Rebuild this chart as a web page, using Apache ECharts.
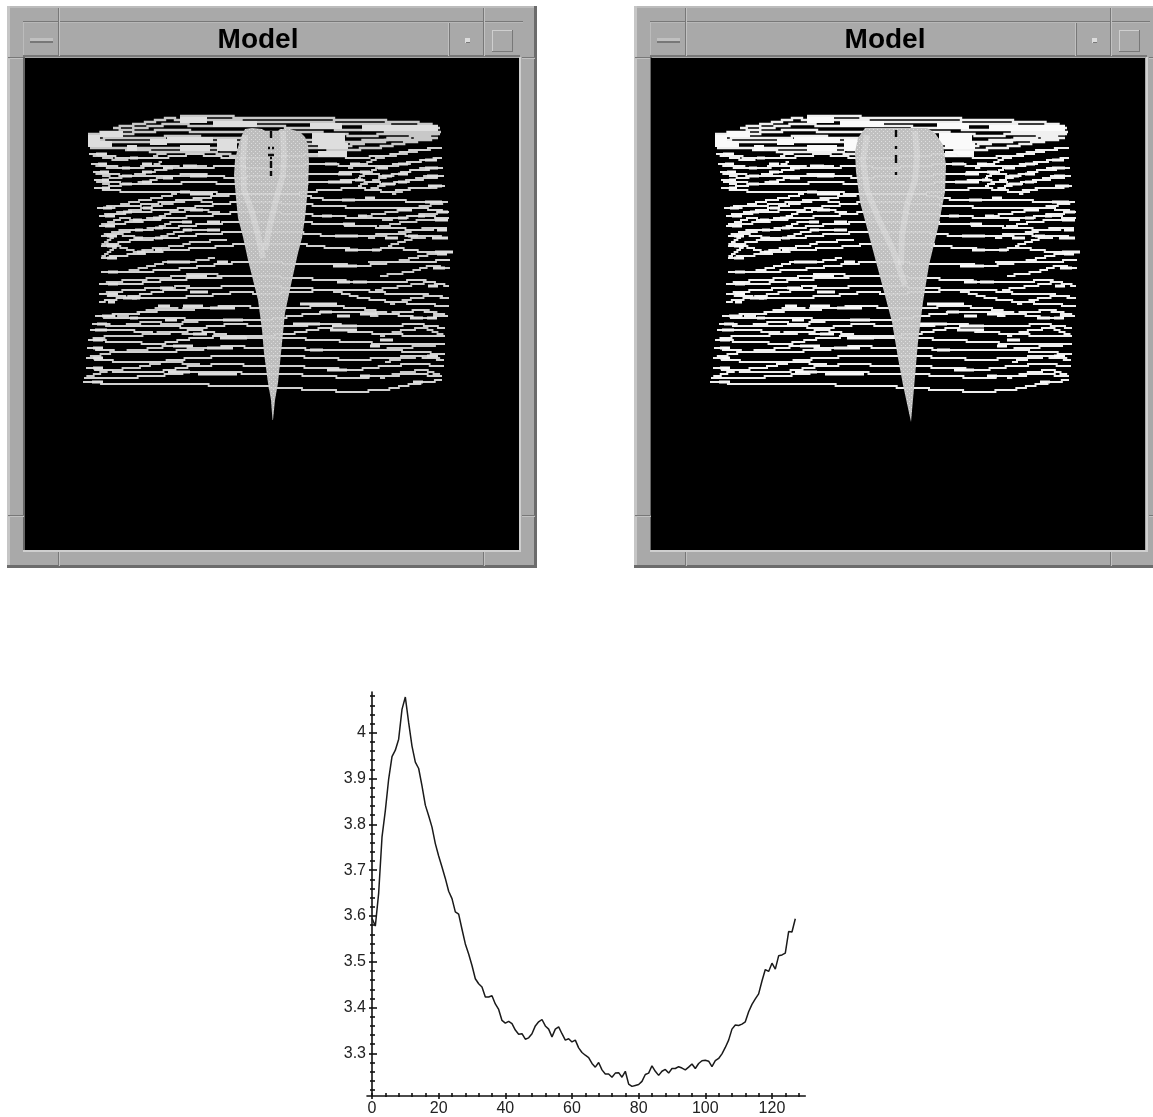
<!DOCTYPE html>
<html><head><meta charset="utf-8">
<style>html,body{margin:0;padding:0;background:#fff}#c{width:1153px;height:1117px}</style>
<script src="https://cdn.jsdelivr.net/npm/echarts@6/dist/echarts.min.js"></script>
</head><body><div id="c"></div>
<script>
// ---------- profile curve ----------
const curveValues = [3.595,3.578,3.650,3.772,3.830,3.899,3.948,3.962,3.986,4.051,
4.078,4.022,3.971,3.936,3.922,3.884,3.842,3.819,3.794,3.758,
3.731,3.707,3.682,3.654,3.638,3.609,3.604,3.571,3.539,3.517,
3.492,3.463,3.452,3.445,3.423,3.423,3.426,3.408,3.396,3.372,
3.366,3.370,3.365,3.351,3.342,3.343,3.331,3.334,3.343,3.360,
3.369,3.374,3.360,3.353,3.336,3.353,3.358,3.343,3.329,3.332,
3.325,3.329,3.312,3.302,3.296,3.291,3.278,3.270,3.280,3.264,
3.255,3.255,3.248,3.257,3.258,3.248,3.261,3.233,3.228,3.230,
3.232,3.239,3.254,3.257,3.273,3.261,3.252,3.261,3.265,3.257,
3.267,3.267,3.271,3.268,3.264,3.270,3.277,3.267,3.278,3.284,
3.285,3.283,3.271,3.284,3.289,3.299,3.313,3.329,3.353,3.362,
3.361,3.364,3.369,3.391,3.407,3.419,3.430,3.458,3.483,3.479,
3.497,3.484,3.513,3.515,3.519,3.566,3.565,3.594];
const yMajorTicks = [3.3,3.4,3.5,3.6,3.7,3.8,3.9,4];
const yMinorTicks = [3.22,3.24,3.26,3.28,3.32,3.34,3.36,3.38,3.42,3.44,3.46,3.48,3.52,3.54,3.56,3.58,3.62,3.64,3.66,3.68,3.72,3.74,3.76,3.78,3.82,3.84,3.86,3.88,3.92,3.94,3.96,3.98,4.02,4.04,4.06,4.08];
const xMajorTicks = [0,20,40,60,80,100,120];
const xMinorTicks = [4,8,12,16,24,28,32,36,44,48,52,56,64,68,72,76,84,88,92,96,104,108,112,116,124,128];

// ---------- wireframe rows of the model (y read at 12 stations between left and right end) ----------
const rowStations = [0,.1,.2,.3,.4,.48,.56,.66,.75,.84,.92,1];
const rowLeft  = [89,91,93,94,94,97,99,99,101,101,101,101,99,99,99,95,97,92,90,88,87,86,86,84,83];
const rowRight = [442,442,443,444,445,448,449,449,447,447,453,450,449,449,449,448,448,445,445,445,445,444,444,442,442];
const rowY = [
[154,157,157,153,158,158,155,153,158,155,150,148],
[164,167,166,167,166,167,166,163,166,165,161,158],
[172,176,175,174,177,176,175,173,172,175,170,167],
[180,184,183,181,184,184,183,181,179,183,179,175],
[188,191,191,192,193,194,194,190,187,192,188,185],
[208,206,202,198,193,193,194,199,200,200,201,202],
[216,212,209,206,201,201,203,205,207,208,208,211],
[226,221,218,215,211,212,214,216,217,217,216,218],
[236,230,228,224,222,222,222,224,226,228,230,228],
[245,240,237,233,231,231,232,235,235,234,236,238],
[258,254,250,247,244,243,244,247,250,247,251,252],
[272,272,270,265,262,262,263,264,265,262,262,260],
[284,283,280,277,275,276,277,279,282,281,280,285],
[294,298,297,295,291,294,292,290,290,294,294,297],
[301,296,290,288,286,285,287,290,297,302,304,305],
[315,313,309,307,305,307,308,305,307,313,317,316],
[316,317,318,319,319,320,316,311,312,313,310,315],
[323,325,326,327,324,325,325,324,326,325,323,328],
[330,330,334,330,335,336,334,328,331,333,335,335],
[340,342,343,338,336,337,338,340,342,343,343,343],
[348,351,352,349,345,347,348,349,350,350,352,354],
[358,361,362,358,355,355,356,357,360,358,356,360],
[368,371,371,366,363,365,366,367,370,366,364,365],
[377,377,375,372,371,373,374,376,378,375,373,376],
[382,383,383,384,386,385,388,390,392,389,384,380]];

// short branches fanning out from the row ends
const leftBranches = [
[[89,154],[117,160],[138,157]],[[153,155],[170,152]],
[[91,164],[112,168],[130,167],[152,165],[162,162]],
[[93,172],[113,177],[130,175],[150,172],[160,170],[173,168],[207,166]],
[[94,180],[112,185],[130,183],[147,181],[160,178],[173,175],[203,175]],
[[97,208],[117,205],[133,202],[157,198],[177,193]],
[[99,216],[123,211],[147,208],[167,203],[190,200],[213,201]],
[[99,226],[123,218],[137,219],[157,217],[173,212],[197,210],[220,212]],
[[101,236],[123,229],[138,229],[157,227],[173,222],[187,221]],
[[101,245],[117,233],[140,238],[158,237],[177,232],[190,230],[220,230]],
[[101,258],[117,245],[137,252],[158,248],[180,245],[193,242],[227,240]],
[[101,272],[125,272],[143,268],[167,262],[190,262],[215,258]],
[[99,284],[130,280],[163,277],[195,274],[240,276]],
[[99,294],[130,290],[160,287],[190,285]],
[[95,315],[113,317],[133,313],[160,307],[195,310]],
[[92,323],[120,326],[147,322],[175,323],[205,320]],
[[88,340],[110,335],[135,335],[165,331],[200,333]],
[[86,358],[115,352],[140,350],[170,346],[205,348]],
[[84,377],[110,370],[135,368],[165,362],[200,364]]];
const rightBranches = [
[[348,168],[365,164],[378,158],[402,154],[422,150],[438,148]],
[[358,177],[378,168],[405,163],[425,160],[442,158]],
[[358,185],[382,177],[405,172],[425,168],[443,167]],
[[368,190],[388,183],[412,180],[428,176],[444,175]],
[[392,193],[412,188],[428,187],[445,185]],
[[365,215],[392,212],[425,205],[448,202]],
[[382,220],[402,217],[425,213],[449,211]],
[[375,227],[405,222],[428,220],[449,218]],
[[368,237],[405,232],[428,228],[447,228]],
[[388,245],[415,237],[435,235],[447,238]],
[[368,262],[395,262],[432,253],[453,252]],
[[380,275],[410,272],[430,265],[450,268]],
[[375,290],[405,285],[430,282],[449,285]],
[[390,303],[415,298],[432,295],[449,297]],
[[370,315],[400,312],[425,310],[448,315]],
[[380,335],[405,330],[425,328],[445,335]],
[[375,350],[400,347],[425,345],[445,343]],
[[385,362],[405,357],[425,355],[444,360]],
[[380,378],[405,372],[425,370],[442,376]]];

// bright thick stretches along the rows: [x from, x to, y]
const brightRuns = [
[96,107,153],[98,107,163],[100,109,171],[102,109,180],[102,110,188],[103,112,207],[105,115,215],[105,115,226],[107,117,235],[107,117,245],[107,117,258],[108,118,272],[108,118,284],[108,118,294],[108,115,301],[102,115,315],[97,107,323],[95,107,330],[93,103,340],[93,103,348],[93,103,358],[93,103,368],[92,103,381],
[130,138,157],[142,152,164],[122,130,167],[122,132,175],[142,152,172],[122,132,183],[142,152,181],[123,132,211],[143,152,208],[133,142,219],[153,162,217],[135,143,229],[155,163,227],[135,143,238],[155,163,237],[155,162,249],[137,145,252],[167,190,262],[163,173,167],[163,173,177],[183,197,166],[190,207,176],[180,190,192],[190,213,193],[190,203,210],[182,192,221],[207,220,221],[207,220,230],[183,192,230],
[158,170,306],[183,203,305],[210,235,307],[187,207,275],[217,228,262],[130,138,318],[165,177,319],[132,140,298],[123,137,297],[160,173,288],[190,208,291],[223,243,320],[193,207,334],[220,247,337],[173,193,345],[207,233,347],[198,237,373],[168,190,371],
[325,337,163],[350,360,163],[378,388,167],[398,408,164],[425,437,160],[338,352,173],[360,370,171],[382,392,175],[398,408,173],[425,438,168],[328,352,181],[355,363,180],[382,395,183],[398,407,182],[427,438,176],[428,442,186],[342,355,199],[365,375,197],[398,412,209],[425,442,202],[322,332,215],[358,367,216],[418,425,216],[437,448,211],[343,355,223],[398,407,218],[435,448,219],[335,358,236],[385,398,237],[408,418,235],[437,447,229],[345,358,250],[372,380,250],[432,448,238],[435,453,252],
[300,337,304],[320,332,311],[337,350,315],[360,377,313],[410,423,318],[427,437,318],[293,320,324],[330,357,329],[332,357,325],[380,393,340],[370,380,345],[310,323,350],[427,438,355],[327,347,370],[360,370,375],[413,423,381],[333,357,265],[337,350,281],[353,367,281],[433,445,268],[437,447,253],[428,438,285]];

// dense band along the top edge of the model
const topBand = [
[[180,115],[207,115],[260,117],[308,118],[360,120],[412,122],[438,125]],
[[113,128],[140,123],[170,118],[180,119],[225,120],[258,121],[308,122],[360,124],[420,126],[440,128]],
[[88,133],[113,131],[140,127],[170,124],[207,125],[260,126],[310,127],[360,129],[410,131],[441,131]],
[[88,136],[113,135],[140,132],[170,130],[210,131],[260,131],[310,132],[360,136],[395,134],[438,134]],
[[88,140],[120,138],[150,138],[180,135],[220,137],[290,137],[310,139],[350,141],[400,137],[440,134]],
[[88,144],[120,142],[150,142],[175,141],[215,142],[310,143],[345,145],[370,142],[430,138]],
[[90,147],[113,148],[140,147],[170,147],[205,148],[237,150],[310,148],[345,150],[375,147],[410,142],[438,138]],
[[125,150],[175,152],[210,152],[237,155],[315,155],[345,155]]];
const bandRuns = [[88,100,138],[88,112,144],[100,123,134],[150,167,142],[167,213,140],[180,210,148],[217,237,142],[217,237,148],[127,137,148],[180,207,120],[213,257,123],[310,342,125],[362,408,127],[405,438,128],[318,348,145],[318,347,154],[312,345,136],[312,345,141]];

// blobs: outline, bright ridges and dark marks of the heart shape
const heartA = [[252,128],[245,129],[242,135],[238,147],[235,160],[234,175],[236,198],[238,218],[243,237],[248,260],[253,280],[258,300],[262,330],[264,353],[268,383],[271,400],[272.5,420],[273,420],[275,400],[278,383],[281,353],[285,313],[292,280],[298,253],[302,238],[305,218],[308,188],[309,162],[308,145],[305,137],[300,132],[290,129],[280,129],[277,132],[267,132],[262,129]];
const heartB = [[256,128],[238,128],[231,138],[228,152],[229,172],[233,202],[240,228],[248,258],[256,288],[265,322],[271,358],[276,385],[284,422],[287,388],[291,342],[296,302],[302,265],[311,228],[318,192],[319,165],[316,145],[308,133],[300,128],[285,128],[270,128]];
const ridgesA = [
[[245,135],[243,160],[244,190],[252,212],[258,235],[263,258]],
[[283,131],[284,155],[283,175],[276,200],[270,225],[265,250]]];
const ridgesB = [
[[240,135],[236,160],[240,190],[252,220],[266,250],[278,285]],
[[288,131],[290,155],[288,180],[280,205],[275,235],[274,265]]];
const marksA = [[[271,131],[271,138]],[[268,148],[270,148]],[[272,148],[274,148]],[[268,155],[274,155]],[[270,158],[272,158]],[[271,161],[271,168]],[[271,171],[271,176]]];
const marksB = [[[269,130],[269,137]],[[269,146],[269,149]],[[269,155],[269,163]],[[269,172],[269,175]]];

// ---------- window frames (pure decoration) ----------
function chrome(dx){
  const R=(x,y,w,h,fill)=>({type:'rect',z:-5,shape:{x:x+dx,y,width:w,height:h},style:{fill},silent:true});
  const dark='#787878', light='#c2c2c2';
  return [
    R(7,6,530,562,'#a9a9a9'),
    R(7,6,530,2,'#bcbcbc'), R(7,6,3,562,'#c6c6c6'),
    R(534,6,3,562,'#6c6c6c'), R(7,565,530,3,'#6c6c6c'),
    R(23,21,500,1,dark), R(23,22,500,1,'#b8b8b8'),
    R(23,22,1,35,'#bcbcbc'), R(23,55,497,2,dark),
    R(58,8,1,48,dark), R(59,8,1,48,light),
    R(448,23,1,33,'#c0c0c0'), R(449,23,1,33,dark),
    R(483,8,1,48,dark), R(484,8,1,48,light),
    R(8,57,16,1,dark), R(8,58,16,1,light),
    R(522,57,13,1,dark), R(522,58,13,1,light),
    R(30,38,23,3,'#c0c0c0'), R(30,41,23,2,dark),
    R(465,38,5,5,'#dcdcdc'), R(466,42,4,1,dark),
    R(492,30,21,1,'#cfcfcf'), R(492,30,1,22,'#cfcfcf'), R(492,51,21,1,dark), R(512,30,1,22,dark),
    R(23,57,2,494,'#666'), R(519,57,2,495,'#cfcfcf'), R(23,550,498,2,'#cfcfcf'),
    R(58,552,1,14,dark), R(59,552,1,14,light), R(483,552,1,14,dark), R(484,552,1,14,light),
    R(8,515,16,1,dark), R(8,516,16,1,light), R(522,515,13,1,dark), R(522,516,13,1,light),
    {type:'text',z:-4,x:258+dx,y:40,silent:true,style:{text:'Model',fill:'#000',font:'bold 28px "Liberation Sans"',align:'center',verticalAlign:'middle'}}
  ];
}

// ---------- helpers ----------
const tex=(base,dot)=>{const c=document.createElement('canvas');c.width=c.height=4;const g=c.getContext('2d');
  g.fillStyle=base;g.fillRect(0,0,4,4);g.fillStyle=dot;g.fillRect(1,1,1,1);g.fillRect(3,3,1,1);return c;};
const rowLines = rowY.map((ys,i)=>ys.map((y,j)=>[rowLeft[i]+rowStations[j]*(rowRight[i]-rowLeft[i]),y]));
// the original wires sit on a coarse pixel raster: draw each polyline as horizontal runs with small steps
const Q=2, snap=v=>Math.round(v/Q)*Q;
function stairs(pts){
  const out=[[pts[0][0],snap(pts[0][1])]];
  for(let i=1;i<pts.length;i++){
    const [x0,y0]=pts[i-1],[x1,y1]=pts[i];
    const a=snap(y0),b=snap(y1),n=Math.abs(b-a)/Q;
    for(let k=1;k<=n;k++){
      const xs=x0+(x1-x0)*(k-.5)/n, yPrev=a+(b-a)*(k-1)/n, yNext=a+(b-a)*k/n;
      out.push([xs,yPrev],[xs,yNext]);
    }
    out.push([x1,b]);
  }
  return out;
}
const runs=arr=>arr.map(([a,b,y])=>[[a,snap(y)],[b,snap(y)]]);
const asLines = arr => arr.map(coords=>({coords}));

function modelSeries(g,heart,ridges,marks,wire,width,bright,fill){
  const base={coordinateSystem:'cartesian2d',xAxisIndex:g,yAxisIndex:g,silent:true,animation:false};
  const lines=(arr,color,w,z,op)=>Object.assign({type:'lines',polyline:true,data:asLines(arr),lineStyle:{color,width:w,opacity:op===undefined?1:op,curveness:0,cap:'butt',join:'miter'},z},base);
  return [
    lines(rowLines.concat(leftBranches,rightBranches).map(stairs),wire,width,3),
    lines(runs(brightRuns),bright,2.8,3),
    lines(topBand.map(stairs),wire,2.4,3),
    lines(runs(bandRuns),bright,6,3),
    Object.assign({type:'custom',data:[[25,58]],z:4,clip:false,
      renderItem:(p,api)=>({type:'polygon',shape:{points:heart.map(q=>api.coord(q))},style:{fill:{image:fill,repeat:'repeat'}}})},base),
    lines(ridges,'#e8e8e8',6,5,.35),
    lines(rowLines.map(stairs),'#e8e8e8',.8,6,.6),
    lines(marks,'#0a0a0a',2.4,7)
  ];
}

const MAIN=2, hiddenAxis={show:false};
const font={fontFamily:'"Liberation Sans"',fontSize:16,color:'#222'};
const chart=echarts.init(document.getElementById('c'),null,{renderer:'canvas'});
chart.setOption({
  animation:false,backgroundColor:'#fff',
  graphic:{elements:[].concat(chrome(0),chrome(627))},
  grid:[
    {left:25,top:58,width:494,height:492,show:true,backgroundColor:'#000',borderWidth:0},
    {left:651,top:58,width:494,height:492,show:true,backgroundColor:'#000',borderWidth:0},
    {left:367,top:692,width:438.3,height:407,show:false}
  ],
  xAxis:[
    {gridIndex:0,min:25,max:519,...hiddenAxis},
    {gridIndex:1,min:24,max:518,...hiddenAxis},
    {gridIndex:MAIN,type:'value',min:-1.5,max:130,splitLine:{show:false},position:'bottom',offset:0,
      axisLine:{show:true,onZero:false,lineStyle:{color:'#111',width:1.6}},axisTick:{show:false},axisLabel:{show:false}},
    {gridIndex:MAIN,type:'value',min:-1.5,max:130,splitLine:{show:false},position:'bottom',offset:-3,
      axisLine:{show:false,onZero:false},
      axisTick:{show:true,length:6,customValues:xMajorTicks,lineStyle:{color:'#111',width:1.6}},
      axisLabel:{show:true,margin:8,customValues:xMajorTicks,...font,hideOverlap:false}},
    {gridIndex:MAIN,type:'value',min:-1.5,max:130,splitLine:{show:false},position:'bottom',offset:-3,
      axisLine:{show:false,onZero:false},
      axisTick:{show:true,length:4,customValues:xMinorTicks,lineStyle:{color:'#111',width:1.6}},axisLabel:{show:false}}
  ],
  yAxis:[
    {gridIndex:0,min:58,max:550,inverse:true,...hiddenAxis},
    {gridIndex:1,min:58,max:550,inverse:true,...hiddenAxis},
    {gridIndex:MAIN,type:'value',min:3.207,max:4.089,splitLine:{show:false},position:'left',offset:-5,
      axisLine:{show:true,onZero:false,lineStyle:{color:'#111',width:1.6}},axisTick:{show:false},axisLabel:{show:false}},
    {gridIndex:MAIN,type:'value',min:3.207,max:4.089,splitLine:{show:false},position:'left',offset:-10,
      axisLine:{show:false,onZero:false},
      axisTick:{show:true,length:8,customValues:yMajorTicks,lineStyle:{color:'#111',width:1.6}},
      axisLabel:{show:true,margin:11,customValues:yMajorTicks,...font}},
    {gridIndex:MAIN,type:'value',min:3.207,max:4.089,splitLine:{show:false},position:'left',offset:-8,
      axisLine:{show:false,onZero:false},
      axisTick:{show:true,length:5,customValues:yMinorTicks,lineStyle:{color:'#111',width:1.6}},axisLabel:{show:false}}
  ],
  series:[
    ...modelSeries(0,heartA,ridgesA,marksA,'#c8c8c8',1.8,'#dedede',tex('#bdbdbd','#dcdcdc')),
    ...modelSeries(1,heartB,ridgesB,marksB,'#f0f0f0',2,'#fafafa',tex('#c0c0c0','#e0e0e0')),
    {type:'line',xAxisIndex:2,yAxisIndex:2,data:curveValues.map((v,i)=>[i,v]),showSymbol:false,symbol:'none',
     lineStyle:{color:'#1a1a1a',width:1.5},silent:true,animation:false,z:5}
  ]
});
</script></body></html>
